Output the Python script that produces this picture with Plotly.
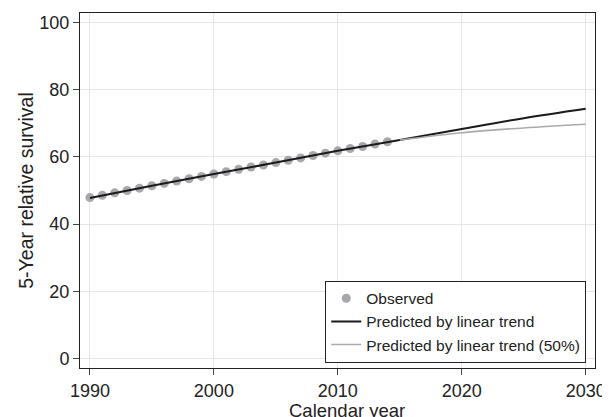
import plotly.graph_objects as go

obs_years = list(range(1990, 2015))
obs_values = [47.9, 48.6, 49.3, 50.0, 50.7, 51.4, 52.1, 52.8, 53.5, 54.2,
              54.9, 55.6, 56.3, 57.0, 57.6, 58.3, 59.0, 59.7, 60.4, 61.1,
              61.8, 62.5, 63.1, 63.8, 64.5]

pred_years = [1990, 1995, 2000, 2005, 2010, 2015, 2020, 2025, 2030]
pred_values = [47.8, 51.4, 54.9, 58.3, 61.8, 65.0, 68.3, 71.5, 74.3]

pred50_years = [2015, 2020, 2025, 2030]
pred50_values = [65.0, 67.2, 68.6, 69.7]

x_ticks = [1990, 2000, 2010, 2020, 2030]
y_ticks = [0, 20, 40, 60, 80, 100]

x_title = "Calendar year"
y_title = "5-Year relative survival"

font_family = "Liberation Sans, Arial, Helvetica, sans-serif"

fig = go.Figure()
fig.add_trace(go.Scatter(
    x=obs_years, y=obs_values, mode="markers", name="Observed",
    marker=dict(color="#a8a8ac", size=9, line=dict(width=0)),
))
fig.add_trace(go.Scatter(
    x=pred_years, y=pred_values, mode="lines", name="Predicted by linear trend",
    line=dict(color="#1a1a1a", width=2, shape="spline"),
))
fig.add_trace(go.Scatter(
    x=pred50_years, y=pred50_values, mode="lines",
    name="Predicted by linear trend (50%)",
    line=dict(color="#aaaaaa", width=1.6, shape="spline"),
))

axis_common = dict(
    showline=True, linecolor="#222222", linewidth=1, mirror=True,
    ticks="outside", ticklen=6, tickcolor="#444444", tickwidth=1,
    showgrid=True, gridcolor="#e6e6e6", gridwidth=1, zeroline=False,
    tickfont=dict(size=18, color="#222222", family=font_family),
    automargin=False,
)

# page body has an 8px default margin; the figure is sized to fit the window
fig.update_layout(
    width=602, height=409,
    margin=dict(l=72, r=15, t=5, b=49),
    paper_bgcolor="white", plot_bgcolor="white",
    font=dict(family=font_family, color="#222222"),
    showlegend=True,
    legend=dict(
        x=0.983, y=0.015, xanchor="right", yanchor="bottom",
        bgcolor="white", bordercolor="#222222", borderwidth=1,
        font=dict(size=15.5, color="#222222", family=font_family),
        tracegroupgap=0, itemwidth=30,
    ),
)
fig.add_annotation(
    text=x_title, xref="paper", yref="paper", x=0.518, y=-0.119,
    xanchor="center", yanchor="middle", showarrow=False,
    font=dict(size=18.5, color="#222222", family=font_family),
)
fig.update_xaxes(range=[1989.2, 2030.75], tickvals=x_ticks, **axis_common)
fig.update_yaxes(
    range=[-2.8, 102.8], tickvals=y_ticks,
    title=dict(text=y_title, font=dict(size=19.5), standoff=0),
    **axis_common,
)

fig.write_html("out.html")
